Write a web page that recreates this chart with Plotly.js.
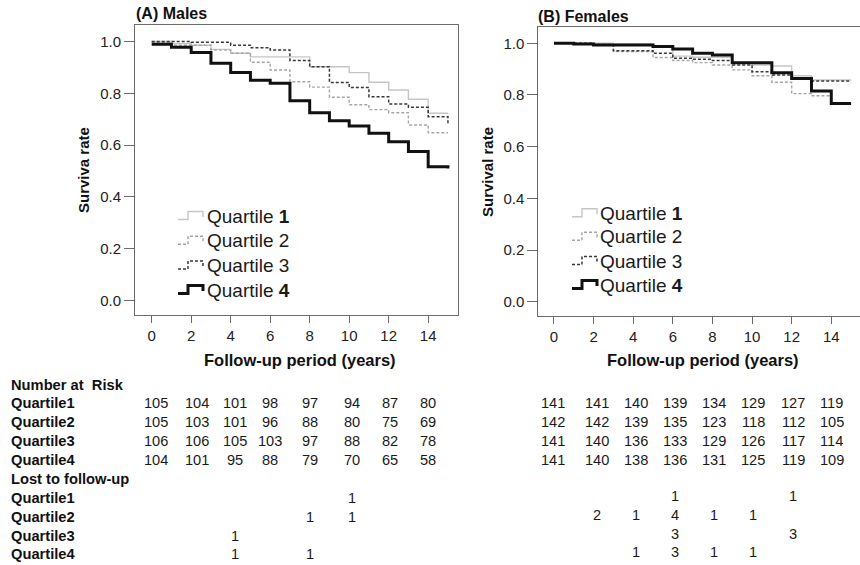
<!DOCTYPE html>
<html>
<head>
<meta charset="utf-8">
<script src="https://cdn.plot.ly/plotly-3.0.1.min.js"></script>
<style>html,body{margin:0;padding:0;background:#fff;}#chart{width:860px;height:565px;}</style>
</head>
<body>
<div id="chart"></div>
<script>
// ---------- data ----------
const years = [0,1,2,3,4,5,6,7,8,9,10,11,12,13,14,15];
const seriesNames = ['Quartile 1','Quartile 2','Quartile 3','Quartile 4'];

// survival estimate in force from each year on (last value = value at end of follow-up)
const maleQ1 = [1.000,0.992,0.986,0.970,0.955,0.941,0.941,0.941,0.903,0.903,0.880,0.843,0.813,0.777,0.723,0.723];
const maleQ2 = [0.997,0.986,0.986,0.967,0.955,0.920,0.890,0.845,0.824,0.785,0.756,0.737,0.725,0.678,0.648,0.648];
const maleQ3 = [1.000,1.000,0.997,0.997,0.986,0.976,0.967,0.927,0.903,0.842,0.823,0.787,0.759,0.746,0.710,0.685];
const maleQ4 = [0.990,0.978,0.958,0.916,0.881,0.851,0.839,0.771,0.725,0.694,0.674,0.646,0.613,0.575,0.517,0.510];

const femaleQ1 = [1.000,1.000,1.000,0.997,0.997,0.985,0.950,0.946,0.946,0.923,0.916,0.912,0.874,0.858,0.858,0.858];
const femaleQ2 = [1.000,0.997,0.993,0.968,0.968,0.945,0.933,0.925,0.916,0.897,0.874,0.849,0.805,0.797,0.797];
const femaleQ3 = [1.000,1.000,0.995,0.971,0.971,0.961,0.942,0.938,0.933,0.916,0.890,0.877,0.864,0.854,0.854,0.854];
const femaleQ4 = [1.000,0.997,0.993,0.993,0.993,0.987,0.978,0.961,0.955,0.925,0.925,0.886,0.864,0.815,0.767,0.767];

const xTicks = [0,2,4,6,8,10,12,14];
const yTicks = [0.0,0.2,0.4,0.6,0.8,1.0];

const tableRowLabels = ['Quartile1','Quartile2','Quartile3','Quartile4'];
const riskMale = [
  [105,104,101,98,97,94,87,80],
  [105,103,101,96,88,80,75,69],
  [106,106,105,103,97,88,82,78],
  [104,101,95,88,79,70,65,58]
];
const riskFemale = [
  [141,141,140,139,134,129,127,119],
  [142,142,139,135,123,118,112,105],
  [141,140,136,133,129,126,117,114],
  [141,140,138,136,131,125,119,109]
];
const lostMale = [
  [null,null,null,null,null,1,null,null],
  [null,null,null,null,1,1,null,null],
  [null,null,1,null,null,null,null,null],
  [null,null,1,null,1,null,null,null]
];
const lostFemale = [
  [null,null,null,1,null,null,1,null],
  [null,2,1,4,1,1,null,null],
  [null,null,null,3,null,null,3,null],
  [null,null,1,3,1,1,null,null]
];

// ---------- styling / layout helpers ----------
const W = 860, H = 565;
const FONT = 'Liberation Sans, Arial, Helvetica, sans-serif';
const px = x => x / W;
const py = y => 1 - y / H;

const styles = [
  {color:'#c6c6c6', width:1.4, dash:'solid'},
  {color:'#a6a6a6', width:1.4, dash:'3px,2px'},
  {color:'#383838', width:1.5, dash:'3px,2px'},
  {color:'#111111', width:3,   dash:'solid'}
];

const maleSeries = [maleQ1, maleQ2, maleQ3, maleQ4];
const femaleSeries = [femaleQ1, femaleQ2, femaleQ3, femaleQ4];

const traces = [];
function addSeries(list, xa, ya) {
  list.forEach((vals, i) => {
    traces.push({
      type:'scatter', mode:'lines', name:seriesNames[i],
      x: years.slice(0, vals.length), y: vals,
      xaxis:xa, yaxis:ya,
      line:{shape:'hv', color:styles[i].color, width:styles[i].width, dash:styles[i].dash},
      showlegend:false, hoverinfo:'skip'
    });
  });
}
addSeries(maleSeries, 'x', 'y');
addSeries(femaleSeries, 'x2', 'y2');

const axisCommon = {
  showline:true, mirror:true, linecolor:'#6b6b6b', linewidth:1,
  showgrid:false, zeroline:false, ticks:'outside', tickcolor:'#6b6b6b',
  tickfont:{family:FONT, size:15, color:'#222'}, fixedrange:true
};

const annotations = [];
function txt(text, x, y, opts) {
  annotations.push(Object.assign({
    text, x:px(x), y:py(y), xref:'paper', yref:'paper', showarrow:false,
    xanchor:'left', yanchor:'middle', font:{family:FONT, size:15, color:'#111'}
  }, opts || {}));
}

// panel titles
txt('<b>(A) Males</b>', 134, 14, {font:{family:FONT, size:16, color:'#111'}});
txt('<b>(B) Females</b>', 536, 17, {font:{family:FONT, size:16, color:'#111'}});
// axis titles
txt('<b>Surviva rate</b>', 83, 170, {xanchor:'center', textangle:-90, font:{family:FONT, size:15, color:'#111'}});
txt('<b>Survival rate</b>', 488, 172, {xanchor:'center', textangle:-90, font:{family:FONT, size:15, color:'#111'}});
txt('<b>Follow-up period (years)</b>', 300, 360, {xanchor:'center', font:{family:FONT, size:16.5, color:'#111'}});
txt('<b>Follow-up period (years)</b>', 703, 360, {xanchor:'center', font:{family:FONT, size:16.5, color:'#111'}});

// legends (step icons + labels)
const shapes = [];
function legend(iconX, textX, rows) {
  rows.forEach((yc, i) => {
    const x0 = iconX, x1 = iconX + 10, x2 = iconX + 25;
    const path = `M ${px(x0)} ${py(yc+3.5)} L ${px(x1)} ${py(yc+3.5)} L ${px(x1)} ${py(yc-4.5)} L ${px(x2)} ${py(yc-4.5)} L ${px(x2)} ${py(yc+1)}`;
    shapes.push({type:'path', xref:'paper', yref:'paper', path,
      line:{color:styles[i].color, width:styles[i].width, dash:styles[i].dash}});
    const num = seriesNames[i].split(' ')[1];
    const label = (i === 0 || i === 3) ? 'Quartile <b>' + num + '</b>' : 'Quartile ' + num;
    txt(label, textX, yc, {font:{family:FONT, size:19, color:'#1a1a1a'}});
  });
}
legend(178, 205, [216, 240.7, 265.5, 290]);
legend(572, 598, [213.3, 236.7, 261, 285]);

// table
const rowY = [403.3, 422.3, 441, 460];
const lostY = [497.7, 516.7, 535.7, 554.3];
const colMale = [156.2, 196.7, 234.7, 269.5, 310, 351.7, 390, 427.5];
const colFemale = [552.7, 596.7, 635.7, 675.3, 714, 753.3, 793.3, 831.7];
txt('<b>Number at  Risk</b>', 9, 384.5, {font:{family:FONT, size:14.7, color:'#111'}});
txt('<b>Lost to follow-up</b>', 9, 479, {font:{family:FONT, size:14.7, color:'#111'}});
tableRowLabels.forEach((lab, r) => {
  txt('<b>' + lab + '</b>', 9, rowY[r], {font:{family:FONT, size:14.7, color:'#111'}});
  txt('<b>' + lab + '</b>', 9, lostY[r], {font:{family:FONT, size:14.7, color:'#111'}});
  riskMale[r].forEach((v, c) => txt(String(v), colMale[c], rowY[r], {xanchor:'center', font:{family:FONT, size:14.6, color:'#1a1a1a'}}));
  riskFemale[r].forEach((v, c) => txt(String(v), colFemale[c], rowY[r], {xanchor:'center', font:{family:FONT, size:14.6, color:'#1a1a1a'}}));
  lostMale[r].forEach((v, c) => { if (v !== null) txt(String(v), colMale[c], lostY[r], {xanchor:'center', font:{family:FONT, size:14.6, color:'#1a1a1a'}}); });
  lostFemale[r].forEach((v, c) => { if (v !== null) txt(String(v), colFemale[c], lostY[r] - 2, {xanchor:'center', font:{family:FONT, size:14.6, color:'#1a1a1a'}}); });
});

const layout = {
  width:W, height:H, margin:{l:0, r:0, t:0, b:0},
  paper_bgcolor:'#fff', plot_bgcolor:'#fff', showlegend:false,
  font:{family:FONT},
  xaxis: Object.assign({}, axisCommon, {domain:[px(135), px(458)], range:[-0.845, 15.51], tickvals:xTicks, ticklen:7, anchor:'y'}),
  yaxis: Object.assign({}, axisCommon, {domain:[py(315), py(25)], range:[-0.056, 1.064], tickvals:yTicks, tickformat:'.1f', ticklen:10, anchor:'x'}),
  xaxis2: Object.assign({}, axisCommon, {domain:[px(538.3), 1], range:[-0.79, 15.45], tickvals:xTicks, ticklen:7, anchor:'y2'}),
  yaxis2: Object.assign({}, axisCommon, {mirror:false, domain:[py(316), py(26.7)], range:[-0.055, 1.064], tickvals:yTicks, tickformat:'.1f', ticklen:10, anchor:'x2'}),
  annotations, shapes
};

Plotly.newPlot('chart', traces, layout, {staticPlot:true, displayModeBar:false});
</script>
</body>
</html>
